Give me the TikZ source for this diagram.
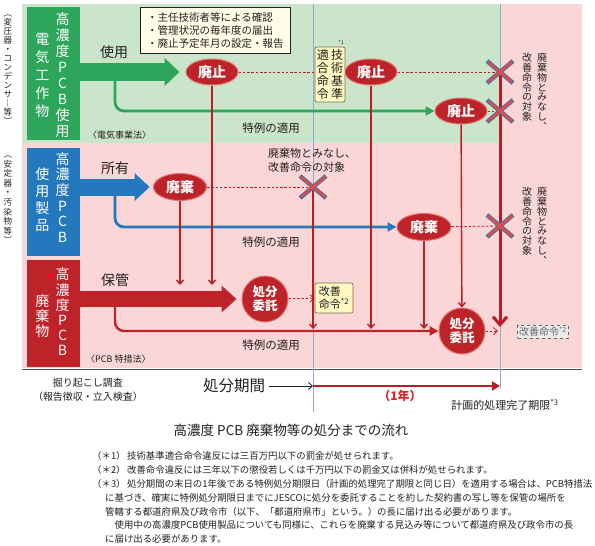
\documentclass[tikz,border=0pt]{standalone}
\usepackage{fontspec}
\setmainfont{Noto Sans CJK JP}
\usepackage{xcolor}
\usetikzlibrary{
    arrows.meta,
    shapes.geometric
}

\definecolor{ink}{RGB}{35,31,32}
\definecolor{bggreen}{RGB}{202,229,202}
\definecolor{bgpink}{RGB}{250,214,215}
\definecolor{pcbgreen}{RGB}{45,165,90}
\definecolor{pcbblue}{RGB}{35,120,190}
\definecolor{pcbred}{RGB}{190,35,42}
\definecolor{ovalrim}{RGB}{225,115,115}
\definecolor{linered}{RGB}{185,30,40}
\definecolor{periodred}{RGB}{215,35,40}
\definecolor{guideblue}{RGB}{140,170,210}
\definecolor{xred}{RGB}{232,72,72}
\definecolor{xblue}{RGB}{80,115,155}
\definecolor{noteyellow}{RGB}{255,248,195}
\definecolor{notecream}{RGB}{255,252,232}
\definecolor{orderrim}{RGB}{120,110,80}

% vertical writing: one character per line
\def\tateend{TATEEND}
\def\tatestep#1{\ifx\tateend#1\else\hbox to 1.1em{\hss#1\hss}\expandafter\tatestep\fi}
\newcommand\tate[2]{\vbox{\baselineskip=#2\lineskiplimit=-\maxdimen\tatestep#1\tateend}}

\tikzset{
    batsu/.pic={
        \draw[xblue, line width=4.4pt] (-13,-11) -- (13,11) (-13,11) -- (13,-11);
        \draw[xred, line width=2.2pt] (-12,-10) -- (12,10) (-12,10) -- (12,-10);
    }
}

\begin{document}
\begin{tikzpicture}[x=1pt,y=-1pt,>={Straight Barb[length=4pt,width=7pt]},text=ink,font=\fontsize{11}{13}\selectfont]
    \tikzstyle{oval}=[ellipse, fill=pcbred, draw=ovalrim, line width=1pt, text=white, inner sep=0pt, minimum width=52pt, minimum height=26pt, font=\fontsize{14}{14}\selectfont\bfseries]
    \tikzstyle{disc}=[circle, fill=pcbred, draw=ovalrim, line width=1pt, text=white, inner sep=0pt, minimum size=46pt, align=center, font=\fontsize{12.5}{14}\selectfont\bfseries]
    \tikzstyle{kind}=[minimum width=53pt, inner sep=0pt]
    \tikzstyle{tatetext}=[text=white, inner sep=0pt, font=\fontsize{14}{14}\selectfont]
    \tikzstyle{flow}=[font=\fontsize{14}{14}\selectfont]
    \tikzstyle{tokurei}=[font=\fontsize{11.5}{14}\selectfont]
    \tikzstyle{side}=[inner sep=0pt, font=\fontsize{8.5}{9}\selectfont]
    \tikzstyle{minasi}=[inner sep=0pt, anchor=north, font=\fontsize{10}{10}\selectfont]
    \tikzstyle{law}=[anchor=west, inner sep=0pt, font=\fontsize{9}{10}\selectfont]
    \tikzstyle{meirei}=[draw=orderrim, fill=noteyellow, rounded corners=2pt, line width=0.7pt]
    \tikzstyle{trunk}=[line width=#1]
    \tikzstyle{redline}=[linered, line width=1.4pt, ->]
    \tikzstyle{dashline}=[linered, line width=0.8pt, dash pattern=on 2.5pt off 1.8pt]
    \tikzstyle{guide}=[guideblue, line width=0.9pt]
    \tikzstyle{foot}=[anchor=west, inner sep=0pt, font=\fontsize{9.4}{11}\selectfont]

    \useasboundingbox (0,0) rectangle (595,546);

    % backgrounds
    \fill[bgpink] (22,4) rectangle (582,368);
    \fill[bggreen] (22,4) rectangle (500,143);
    \draw[line width=1.2pt, black!70] (22,369.5) -- (582,369.5);
    \draw[guide] (313,4) -- (313,412);
    \draw[guide] (500,4) -- (500,389);

    \coordinate (batsu1) at (500,72);
    \coordinate (batsu2) at (500,111);
    \coordinate (batsu3) at (313,187);
    \coordinate (batsu4) at (500,226);
    \coordinate (rtop) at (0,285);
    \coordinate (rlow) at (0,329);
    \coordinate (rend) at (0,327);
    \coordinate (gfork) at (115,78);
    \coordinate (bfork) at (115,194);
    \coordinate (rfork) at (115,303);

    % side notes
    \node[side] (hensei) at (8,70) {\tate{︵変圧器・コンデンサ︱等︶}{9pt}};
    \node[side] (antei) at (8,200) {\tate{︵安定器・汚染物等︶}{9.6pt}};

    % the three kinds
    \node[kind, fill=pcbgreen, minimum height=133pt] (gbox) at (53.5,73.5) {};
    \node[tatetext] (gcol1) at (62.5,75) {\tate{高濃度PCB使用}{16pt}};
    \node[tatetext] (gcol2) at (42.5,75) {\tate{電気工作物}{18pt}};
    \node[kind, fill=pcbblue, minimum height=108pt] (bbox) at (53.5,202) {};
    \node[tatetext] (bcol1) at (62.5,197.5) {\tate{高濃度PCB}{15.6pt}};
    \node[tatetext] (bcol2) at (42.5,199.5) {\tate{使用製品}{17pt}};
    \node[kind, fill=pcbred, minimum height=107pt] (rbox) at (53.5,313.5) {};
    \node[tatetext] (rcol1) at (62.5,312) {\tate{高濃度PCB}{15.2pt}};
    \node[tatetext] (rcol2) at (42.5,316) {\tate{廃棄物}{15pt}};

    \node[flow] (shiyo) at (114,52) {使用};
    \node[flow] (shoyu) at (115,168) {所有};
    \node[flow] (hokan) at (115,280) {保管};
    \node[law] (denki) at (88,135) {〈電気事業法〉};
    \node[law] (tokuso) at (86,359) {〈PCB 特措法〉};

    % memo
    \node[draw=ink, fill=notecream, line width=0.7pt, anchor=north west, minimum width=150pt, minimum height=46pt, align=left, inner sep=3pt, font=\fontsize{10.5}{13}\selectfont] (memo) at (140,7) {・主任技術者等による確認\\・管理状況の毎年度の届出\\・廃止予定年月の設定・報告};

    % ovals
    \node[oval] (hs1) at (212,72) {廃止};
    \node[oval] (hs2) at (371,72) {廃止};
    \node[oval] (hs3) at (461,111) {廃止};
    \node[oval, minimum width=53pt, minimum height=27pt] (hk1) at (180,187) {廃棄};
    \node[oval, minimum width=54pt, minimum height=27pt] (hk2) at (424,227) {廃棄};
    \node[disc] (it1) at (265,299) {処分\\委託};
    \node[disc] (it2) at (462,331) {処分\\委託};

    \node[tokurei] (tk1) at (271,128) {特例の適用};
    \node[tokurei] (tk2) at (271,242) {特例の適用};
    \node[tokurei] (tk3) at (271,345) {特例の適用};
    \node[align=left, font=\fontsize{11}{14}\selectfont] (minasi0) at (312,160) {廃棄物とみなし、\\改善命令の対象};
    \node[minasi] (minasi1) at (542,53) {\tate{廃棄物とみなし︑}{9.8pt}};
    \node[minasi] (minasi2) at (527,53) {\tate{改善命令の対象}{9.8pt}};
    \node[minasi] (minasi3) at (542,187) {\tate{廃棄物とみなし︑}{9.8pt}};
    \node[minasi] (minasi4) at (527,187) {\tate{改善命令の対象}{9.8pt}};

    % big arrows
    \draw[trunk=18pt, pcbgreen, -{Triangle[width=28pt,length=15pt,line width=0pt]}, shorten >=6pt] (gbox.east |- hs1) -- (hs1);
    \draw[trunk=17pt, pcbblue, -{Triangle[width=28pt,length=15pt,line width=0pt]}, shorten >=3.5pt] (bbox.east |- hk1) -- (hk1);
    \draw[trunk=16pt, pcbred, -{Triangle[width=27pt,length=15pt,line width=0pt]}, shorten >=5pt] (rbox.east |- it1) -- (it1);

    % branches
    \draw[pcbgreen, line width=2.8pt, rounded corners=9pt, -{Triangle[width=9pt,length=9pt]}] (gfork) |- (hs3);
    \draw[pcbblue, line width=2.8pt, rounded corners=9pt, -{Triangle[width=9pt,length=9pt]}] (bfork) |- (hk2);
    \draw[pcbred, line width=2.4pt, rounded corners=9pt, -{Triangle[width=9pt,length=9pt]}] (rfork) |- (it2);

    % dashed
    \draw[dashline] (hs1) -- (hs2);
    \draw[dashline] (hs2) -- (batsu1);
    \draw[dashline] (hs3) -- (batsu2);
    \draw[dashline] (hk1) -- (batsu3);
    \draw[dashline] (hk2) -- (batsu4);

    % orders
    \node[meirei, minimum width=30pt, minimum height=55pt, inner sep=1pt, font=\fontsize{12}{12}\selectfont] (kijun) at (330,74.5) {\tate{適合命令}{13pt}\hspace{1pt}\tate{技術基準}{13pt}};
    \node[inner sep=0pt, font=\fontsize{5}{5}\selectfont] (chu1) at (341,43) {*1};
    \node[meirei, minimum width=38pt, minimum height=30pt, align=left, inner sep=2pt, font=\fontsize{11}{13}\selectfont] (kz1) at (334,298) {改善\\命令\textsuperscript{*2}};
    \node[draw=black!60, dashed, fill=black!8, text=black!60, inner sep=1.5pt, font=\fontsize{10}{11}\selectfont] (kz2) at (543,331.5) {改善命令\textsuperscript{*2}};

    % red flows
    \draw[redline] (hs1) -- (hs1 |- rtop);
    \draw[redline] (hk1) -- (hk1 |- rtop);
    \draw[redline] (hs2) -- (hs2 |- rlow);
    \draw[redline] (batsu3) -- (batsu3 |- rlow);
    \draw[redline] (hk2) -- (hk2 |- rlow);
    \draw[redline] (hs3) -- (it2);
    \draw[linered, line width=3pt, -{Straight Barb[length=8pt,width=14pt]}] (batsu1) -- (batsu1 |- rend);
    \draw[dashline, ->] (it1) -- (kz1);
    \draw[dashline, ->, shorten >=2pt] (it2) -- (it2 -| batsu1);

    \foreach \c in {batsu1,batsu2,batsu3,batsu4}
        \pic at (\c) {batsu};

    % period
    \node[align=center, font=\fontsize{10}{14}\selectfont] (chosa) at (88,390) {掘り起こし調査\\（報告徴収・立入検査）};
    \node[font=\fontsize{15.5}{16}\selectfont] (kikan) at (234,386) {処分期間};
    \draw[ink, line width=0.8pt, ->] (kikan) -- (kikan -| batsu3);
    \draw[linered, line width=1.8pt, -{Triangle[width=9pt,length=8pt]}] (kikan -| batsu3) -- (kikan -| batsu1);
    \node[text=periodred, font=\fontsize{12}{12}\selectfont\bfseries] (ichinen) at (400,396) {（1年）};
    \node[font=\fontsize{11}{12}\selectfont] (kigen) at (505,405) {計画的処理完了期限\textsuperscript{*3}};

    \node[font=\fontsize{13.5}{14}\selectfont] (title) at (291,430) {高濃度 PCB 廃棄物等の処分までの流れ};

    % notes
    \node[foot] (fn1) at (92,456) {\makebox[35pt][l]{（＊1）}技術基準適合命令違反には三百万円以下の罰金が処せられます。};
    \node[foot] (fn2) at (92,470) {\makebox[35pt][l]{（＊2）}改善命令違反には三年以下の懲役若しくは千万円以下の罰金又は併科が処せられます。};
    \node[foot] (fn3) at (92,484) {\makebox[35pt][l]{（＊3）}処分期間の末日の1年後である特例処分期限日（計画的処理完了期限と同じ日）を適用する場合は、PCB特措法};
    \node[foot] (fn4) at (105,498) {に基づき、確実に特例処分期限日までにJESCOに処分を委託することを約した契約書の写し等を保管の場所を};
    \node[foot] (fn5) at (105,512) {管轄する都道府県及び政令市（以下、「都道府県市」という。）の長に届け出る必要があります。};
    \node[foot] (fn6) at (105,525) {　使用中の高濃度PCB使用製品についても同様に、これらを廃棄する見込み等について都道府県及び政令市の長};
    \node[foot] (fn7) at (105,539) {に届け出る必要があります。};
\end{tikzpicture}
\end{document}
